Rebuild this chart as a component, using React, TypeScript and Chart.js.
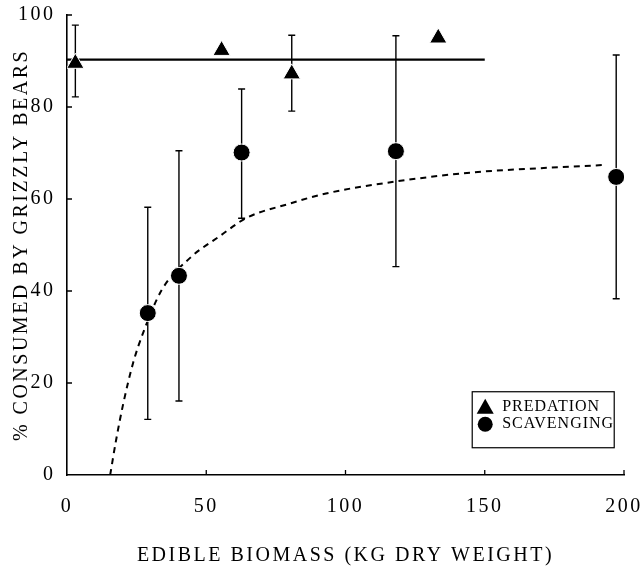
import React, { useEffect, useRef } from "react";
import { Chart, registerables } from "chart.js";

Chart.register(...registerables);

// ---- data ----
const predationX = [3, 55.5, 80.7, 133.3];
const predationY = [89.5, 92.3, 87.2, 95];
const predationHi: (number | null)[] = [97.8, null, 95.6, null];
const predationLo: (number | null)[] = [82.2, null, 79.1, null];

const scavengingX = [29, 40.2, 62.7, 118.1, 197.2];
const scavengingY = [35.2, 43.3, 70.1, 70.4, 64.8];
const scavengingHi = [58.2, 70.5, 83.9, 95.5, 91.3];
const scavengingLo = [12.1, 16.1, 55.8, 45.3, 38.3];

const predationMeanX = [0, 150];
const predationMeanY = [90.3, 90.3];

const fitX = [15.5, 17.6, 20.2, 23.8, 27.4, 34, 44.2, 55, 64.5, 80, 93, 118, 146, 170, 193];
const fitY = [0, 7.5, 15.5, 24.5, 31, 40.2, 47.2, 52, 55.9, 59, 61.2, 63.8, 65.8, 66.7, 67.4];

const xTicks = [0, 50, 100, 150, 200];
const yTicks = [0, 20, 40, 60, 80, 100];

const legendLabels = ["PREDATION", "SCAVENGING"];
const xTitle = "EDIBLE BIOMASS (KG DRY WEIGHT)";
const yTitle = "% CONSUMED BY GRIZZLY BEARS";

const FONT = "'Liberation Serif', 'Times New Roman', serif";
const SPACING = "2.5px";

const zip = (xs: number[], ys: number[]) => xs.map((x, i) => ({ x, y: ys[i] }));

const extrasPlugin = {
  id: "extras",
  beforeLayout(chart: any) {
    (chart.ctx as any).letterSpacing = SPACING;
  },
  beforeDraw(chart: any) {
    (chart.ctx as any).letterSpacing = SPACING;
  },
  beforeDatasetsDraw(chart: any) {
    const { ctx, scales } = chart;
    const xs = scales.x;
    const ys = scales.y;
    ctx.save();
    ctx.strokeStyle = "#000";
    ctx.lineWidth = 1.4;
    const drawBar = (x: number, lo: number | null, hi: number | null) => {
      if (lo == null || hi == null) return;
      const px = xs.getPixelForValue(x);
      const pLo = ys.getPixelForValue(lo);
      const pHi = ys.getPixelForValue(hi);
      ctx.beginPath();
      ctx.moveTo(px, pLo);
      ctx.lineTo(px, pHi);
      ctx.moveTo(px - 3.5, pLo);
      ctx.lineTo(px + 3.5, pLo);
      ctx.moveTo(px - 3.5, pHi);
      ctx.lineTo(px + 3.5, pHi);
      ctx.stroke();
    };
    predationX.forEach((x, i) => drawBar(x, predationLo[i], predationHi[i]));
    scavengingX.forEach((x, i) => drawBar(x, scavengingLo[i], scavengingHi[i]));

    // inward tick marks
    ctx.lineWidth = 1.3;
    ctx.beginPath();
    const left = xs.getPixelForValue(0);
    const bottom = ys.getPixelForValue(0);
    yTicks.forEach((v) => {
      if (v === 0) return;
      const py = ys.getPixelForValue(v);
      ctx.moveTo(left, py);
      ctx.lineTo(left + 5, py);
    });
    xTicks.forEach((v) => {
      if (v === 0) return;
      const px = xs.getPixelForValue(v);
      ctx.moveTo(px, bottom);
      ctx.lineTo(px, bottom - 5);
    });
    ctx.stroke();
    ctx.restore();
  },
  afterDraw(chart: any) {
    const { ctx, scales } = chart;
    const xs = scales.x;
    const ys = scales.y;
    // legend box anchored in data space (lower right)
    const bx = xs.getPixelForValue(145.5);
    const by = ys.getPixelForValue(18.1);
    const bw = 142;
    const bh = 56;
    ctx.save();
    ctx.fillStyle = "#fff";
    ctx.fillRect(bx, by, bw, bh);
    ctx.strokeStyle = "#000";
    ctx.lineWidth = 1.2;
    ctx.strokeRect(bx, by, bw, bh);
    ctx.fillStyle = "#000";
    // triangle
    const tx = bx + 13;
    const ty = by + 15;
    ctx.beginPath();
    ctx.moveTo(tx, ty - 8);
    ctx.lineTo(tx + 8.5, ty + 7);
    ctx.lineTo(tx - 8.5, ty + 7);
    ctx.closePath();
    ctx.fill();
    // circle
    ctx.beginPath();
    ctx.arc(tx, by + 32.5, 7.5, 0, Math.PI * 2);
    ctx.fill();
    ctx.font = `16px ${FONT}`;
    ctx.textBaseline = "middle";
    ctx.textAlign = "left";
    (ctx as any).letterSpacing = "1px";
    ctx.fillText(legendLabels[0], bx + 30, by + 15);
    ctx.fillText(legendLabels[1], bx + 30, by + 32.5);
    ctx.restore();
  },
};

export default function App() {
  const ref = useRef<HTMLCanvasElement | null>(null);

  useEffect(() => {
    document.body.style.margin = "0";
    const canvas = ref.current;
    if (!canvas) return;
    const chart = new Chart(canvas, {
      type: "scatter",
      data: {
        datasets: [
          {
            label: legendLabels[0],
            data: zip(predationX, predationY),
            pointStyle: "triangle",
            pointRadius: 10,
            pointHoverRadius: 10,
            backgroundColor: "#000",
            borderColor: "#fff",
            borderWidth: 1,
            order: 1,
          },
          {
            label: legendLabels[1],
            data: zip(scavengingX, scavengingY),
            pointStyle: "circle",
            pointRadius: 8.5,
            pointHoverRadius: 8.5,
            backgroundColor: "#000",
            borderColor: "#fff",
            borderWidth: 1,
            order: 1,
          },
          {
            type: "line",
            label: "predation mean",
            data: zip(predationMeanX, predationMeanY),
            borderColor: "#000",
            borderWidth: 2.2,
            pointRadius: 0,
            fill: false,
            order: 3,
          } as any,
          {
            type: "line",
            label: "scavenging fit",
            data: zip(fitX, fitY),
            borderColor: "#000",
            borderWidth: 2,
            borderDash: [6, 5],
            pointRadius: 0,
            fill: false,
            cubicInterpolationMode: "monotone",
            order: 3,
          } as any,
        ],
      },
      options: {
        responsive: false,
        animation: false,
        layout: { padding: { left: 0, top: 15, right: 19, bottom: 0 } },
        plugins: {
          legend: { display: false },
          tooltip: { enabled: false },
        },
        scales: {
          x: {
            type: "linear",
            min: 0,
            max: 200,
            afterBuildTicks: (s: any) => {
              s.ticks = xTicks.map((v) => ({ value: v }));
            },
            afterFit: (s: any) => {
              s.height = 95;
              s.paddingLeft = 0;
              s.paddingRight = 0;
            },
            grid: { display: false, drawTicks: false },
            border: { display: true, color: "#000", width: 1.6 },
            ticks: {
              color: "#000",
              padding: 20,
              font: { family: FONT, size: 20 },
            },
            title: {
              display: true,
              text: xTitle,
              color: "#000",
              font: { family: FONT, size: 20 },
              padding: { top: 0, bottom: 2 },
            },
          },
          y: {
            type: "linear",
            min: 0,
            max: 100,
            afterBuildTicks: (s: any) => {
              s.ticks = yTicks.map((v) => ({ value: v }));
            },
            afterFit: (s: any) => {
              s.width = 67;
              s.paddingTop = 0;
              s.paddingBottom = 0;
            },
            grid: { display: false, drawTicks: false },
            border: { display: true, color: "#000", width: 1.6 },
            ticks: {
              color: "#000",
              padding: 11.5,
              font: { family: FONT, size: 20 },
            },
            title: {
              display: true,
              text: yTitle,
              color: "#000",
              font: { family: FONT, size: 20 },
              padding: { top: 10, bottom: 0 },
            },
          },
        },
      },
      plugins: [extrasPlugin],
    });
    return () => chart.destroy();
  }, []);

  return (
    <div style={{ width: 643, height: 570, background: "#fff" }}>
      <canvas ref={ref} width={643} height={570} style={{ display: "block" }} />
    </div>
  );
}
